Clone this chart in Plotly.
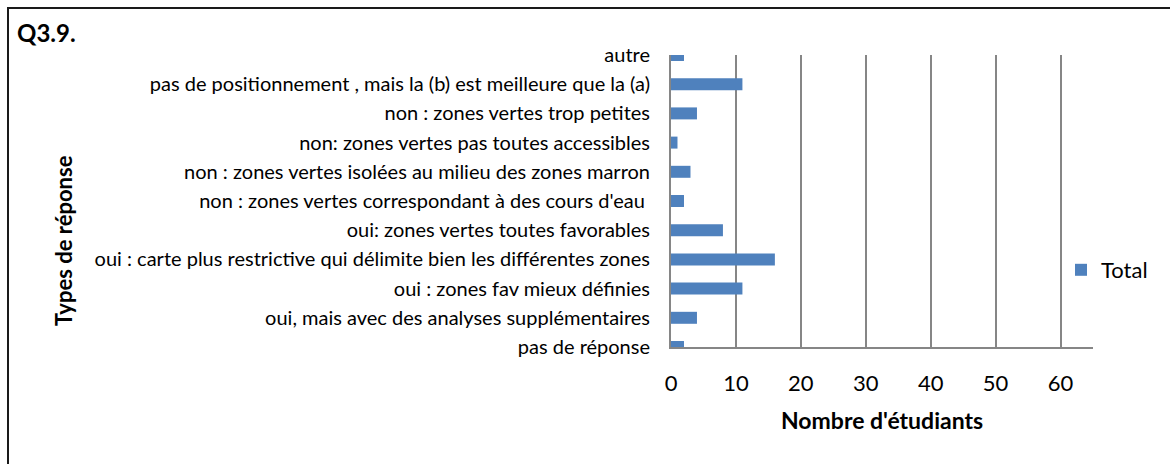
import plotly.graph_objects as go

# Response categories, listed bottom to top
categories = [
    "pas de réponse",
    "oui, mais avec des analyses supplémentaires",
    "oui : zones fav mieux définies",
    "oui : carte plus restrictive qui délimite bien les différentes zones",
    "oui: zones vertes toutes favorables",
    "non : zones vertes correspondant à des cours d'eau\u00a0",
    "non : zones vertes isolées au milieu des zones marron",
    "non: zones vertes pas toutes accessibles",
    "non : zones vertes trop petites",
    "pas de positionnement , mais la (b) est meilleure que la (a)",
    "autre",
]
totals = [2, 4, 11, 16, 8, 2, 3, 1, 4, 11, 2]
x_ticks = [0, 10, 20, 30, 40, 50, 60]

FONT = "Lato"
GREY = "#868686"

# plot-area geometry in pixels
W, H = 1170, 464
L, R, T, B = 671, 1093, 55, 347


def px(x):
    return (x - L) / (R - L)


def py(y):
    return (B - y) / (B - T)


fig = go.Figure()
fig.add_trace(go.Bar(
    x=totals,
    y=categories,
    orientation="h",
    name="Total",
    marker=dict(color="#4F81BD", line=dict(width=0)),
    width=0.41,
))

fig.update_layout(
    width=W,
    height=H,
    margin=dict(l=L, r=W - R, t=T, b=H - B, pad=0),
    paper_bgcolor="white",
    plot_bgcolor="white",
    font=dict(family=FONT, color="#000000"),
    showlegend=True,
    legend=dict(
        x=px(1061), y=py(270), xanchor="left", yanchor="middle",
        font=dict(family=FONT, size=22, color="#000000"),
        bgcolor="rgba(0,0,0,0)",
        itemwidth=30,
    ),
    xaxis=dict(
        range=[0, 65],
        tickvals=x_ticks,
        ticktext=[str(v) for v in x_ticks],
        showgrid=True,
        gridcolor=GREY,
        gridwidth=2,
        zeroline=False,
        showline=True,
        linecolor=GREY,
        linewidth=2,
        ticks="",
        ticklabelstandoff=16,
        tickfont=dict(family=FONT, size=22, color="#000000"),
        fixedrange=True,
    ),
    yaxis=dict(
        type="category",
        categoryorder="array",
        categoryarray=categories,
        range=[0, 10],
        showgrid=False,
        zeroline=False,
        showline=True,
        linecolor=GREY,
        linewidth=2,
        ticks="",
        ticklabelstandoff=15,
        tickfont=dict(family=FONT, size=20, color="#000000"),
        fixedrange=True,
    ),
    annotations=[
        dict(text="<b>Q3.9.</b>", xref="paper", yref="paper",
             x=px(15), y=py(33), xanchor="left", yanchor="middle",
             showarrow=False, font=dict(family=FONT, size=24, color="#000000")),
        dict(text="<b>Types de réponse</b>", xref="paper", yref="paper",
             x=px(63), y=py(241), xanchor="center", yanchor="middle",
             textangle=-90, showarrow=False,
             font=dict(family=FONT, size=22, color="#000000")),
        dict(text="<b>Nombre d'étudiants</b>", xref="paper", yref="paper",
             x=px(882), y=py(420), xanchor="center", yanchor="middle",
             showarrow=False, font=dict(family=FONT, size=23, color="#000000")),
    ],
    shapes=[
        # chart frame
        dict(type="rect", xref="paper", yref="paper",
             x0=px(8), x1=px(1180), y0=py(8), y1=py(480),
             line=dict(color="#1a1a1a", width=2), fillcolor="rgba(0,0,0,0)",
             layer="above"),
    ],
)

fig.write_html("out.html")
